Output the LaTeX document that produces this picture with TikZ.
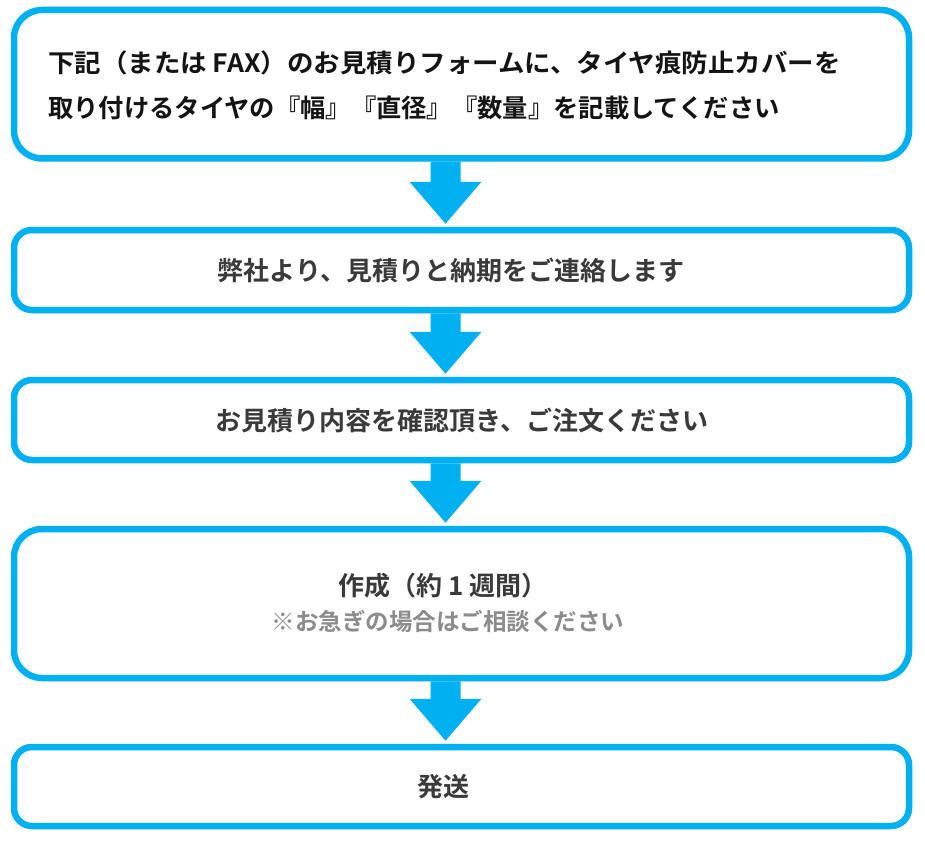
\documentclass[tikz,border=0pt]{standalone}
\usepackage{fontspec}
\usepackage{graphicx}
\newfontfamily\jp{Noto Sans CJK JP}[BoldFont={Noto Sans CJK JP Bold}]
\usetikzlibrary{calc}
\definecolor{flowblue}{RGB}{0,176,240}
\definecolor{txtdark}{RGB}{20,20,20}
\definecolor{txtgray}{RGB}{58,58,58}
\definecolor{txtlight}{RGB}{140,140,140}
\tikzset{
  box/.style={draw=flowblue, line width=6.5pt, fill=white, inner sep=0pt, minimum width=895pt},
  bigbox/.style={box, rounded corners=28pt},
  smallbox/.style={box, rounded corners=18pt},
  lbl/.style={inner sep=0pt, font=\jp\bfseries\fontsize{26}{30}\selectfont, text=txtgray},
  lbltop/.style={inner sep=0pt, anchor=west, font=\jp\bfseries\fontsize{25.3}{30}\selectfont, text=txtdark},
  lblnote/.style={inner sep=0pt, font=\jp\bfseries\fontsize{23.5}{28}\selectfont, text=txtlight},
  arrowfill/.style={fill=flowblue}
}
\newcommand\flowarrow[2]{%
  \fill[arrowfill] let \p1=(#1.south), \p2=(#2.north) in
    (\x1-31pt,\y1) -- (\x1-1pt,\y1) -- (\x1-1pt,\y2+45pt) -- (\x1+20pt,\y2+45pt)
    -- (\x1-16pt,\y2+3pt) -- (\x1-52pt,\y2+45pt) -- (\x1-31pt,\y2+45pt) -- cycle;
}
\begin{document}
\begin{tikzpicture}[x=1pt,y=-1pt]
\useasboundingbox[fill=white] (0,0) rectangle (925,853);
\node[bigbox, minimum height=148.5pt] (b1) at (461.5,84.25) {};
\node[smallbox, minimum height=80pt] (b2) at (461.5,270) {};
\node[smallbox, minimum height=80pt] (b3) at (461.5,420) {};
\node[bigbox, minimum height=149pt] (b4) at (461.5,603.5) {};
\node[smallbox, minimum height=79pt] (b5) at (461.5,786.5) {};
\flowarrow{b1}{b2}
\flowarrow{b2}{b3}
\flowarrow{b3}{b4}
\flowarrow{b4}{b5}
\node[lbltop] (t1a) at (48,63) {\scalebox{1.046}[1]{下記（または FAX）のお見積りフォームに、タイヤ痕防止カバーを}};
\node[lbltop] (t1b) at (48,108) {取り付けるタイヤの『幅』『直径』『数量』を記載してください};
\node[lbl] (t2) at (451,270) {弊社より、見積りと納期をご連絡します};
\node[lbl] (t3) at (462,420) {お見積り内容を確認頂き、ご注文ください};
\node[lbl] (t4a) at (443,586) {作成（約 1 週間）};
\node[lblnote] (t4b) at (448,621) {※お急ぎの場合はご相談ください};
\node[lbl] (t5) at (443,787) {発送};
\end{tikzpicture}
\end{document}
